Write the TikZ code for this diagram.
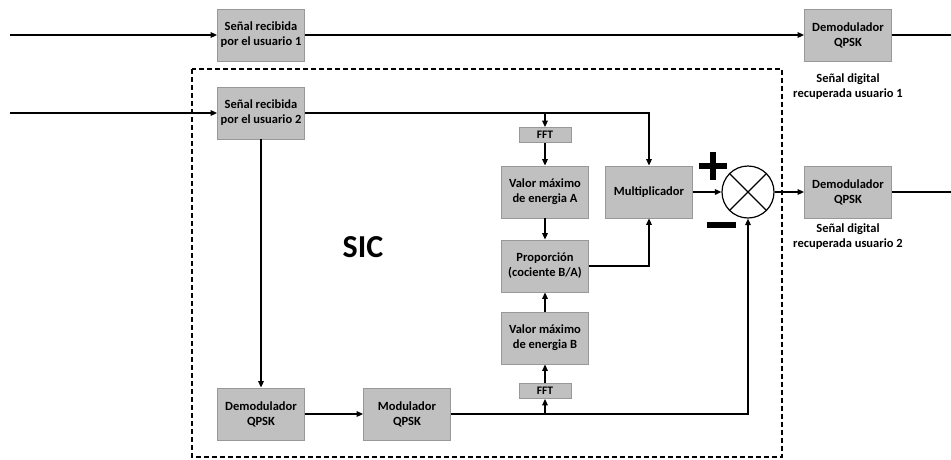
\documentclass[tikz,border=0pt]{standalone}
\usepackage{fontspec}
\setmainfont{Carlito}
\usetikzlibrary{arrows.meta}
\definecolor{boxfill}{HTML}{C0C0C0}
\definecolor{boxline}{HTML}{989898}
\begin{document}
\begin{tikzpicture}[x=1pt,y=-1pt,
  blk/.style={draw=boxline,line width=0.8pt,fill=boxfill,minimum width=87pt,minimum height=52pt,
    inner sep=0pt,align=center,font=\fontsize{12.5}{15}\selectfont\bfseries},
  fftbox/.style={draw=boxline,line width=0.8pt,fill=boxfill,minimum width=52pt,minimum height=15pt,
    inner sep=0pt,font=\fontsize{11.5}{12}\selectfont\bfseries},
  wire/.style={line width=2pt},
  flow/.style={wire,-{Triangle[length=6.5pt,width=5.5pt]}},
  lbl/.style={align=center,font=\fontsize{12.5}{15}\selectfont\bfseries}]
\useasboundingbox (0,0) rectangle (951,459);

% SIC region
\draw[line width=2.6pt,dash pattern=on 5pt off 3pt] (192,69) rectangle (782,457);
\node[font=\fontsize{32}{34}\selectfont\bfseries] (sic) at (363,247) {SIC};

% blocks
\node[blk] (rx1) at (261,35) {Señal recibida\\por el usuario 1};
\node[blk] (rx2) at (261,113) {Señal recibida\\por el usuario 2};
\node[blk] (dem1) at (848,35) {Demodulador\\QPSK};
\node[blk] (dem2) at (848,192) {Demodulador\\QPSK};
\node[fftbox] (fftA) at (545,135) {FFT};
\node[blk] (maxA) at (545,192) {Valor máximo\\de energia A};
\node[blk] (mult) at (649,192) {Multiplicador};
\node[blk] (prop) at (545,266) {Proporción\\(cociente B/A)};
\node[blk] (maxB) at (545,338) {Valor máximo\\de energia B};
\node[fftbox] (fftB) at (545,391) {FFT};
\node[blk] (demL) at (261,414) {Demodulador\\QPSK};
\node[blk] (mod) at (407,414) {Modulador\\QPSK};

% adder / subtractor
\node[draw,circle,line width=1.2pt,minimum size=52pt,inner sep=0pt] (sum) at (748,192) {};
\draw[line width=1.2pt] (sum.north west) -- (sum.south east) (sum.north east) -- (sum.south west);
\node[fill=black,minimum width=28pt,minimum height=6pt,inner sep=0pt] (plusH) at (713,166) {};
\node[fill=black,minimum width=6pt,minimum height=28pt,inner sep=0pt] (plusV) at (713,166) {};
\node[fill=black,minimum width=29pt,minimum height=6pt,inner sep=0pt] (minus) at (721,225) {};

% outputs labels
\node[lbl] (out1) at (848,87) {Señal digital\\recuperada usuario 1};
\node[lbl] (out2) at (848,237) {Señal digital\\recuperada usuario 2};

% free ends
\coordinate (in1) at (10,35);
\coordinate (in2) at (10,113);
\coordinate (end1) at (951,35);
\coordinate (end2) at (951,192);
\coordinate (tapA) at (fftA.north |- rx2.east);
\coordinate (tapB) at (fftB.south |- mod.east);

% connectors
\draw[flow] (in1) -- (rx1);
\draw[flow] (rx1) -- (dem1);
\draw[wire] (dem1) -- (end1);
\draw[flow] (in2) -- (rx2);
\draw[flow] (rx2.east) -| (mult.north);
\draw[flow] (tapA) -- (fftA.north);
\draw[flow] (fftA) -- (maxA);
\draw[flow] (maxA) -- (prop);
\draw[flow] (prop.east) -| (mult.south);
\draw[flow] (mult) -- (sum);
\draw[flow] (sum) -- (dem2);
\draw[wire] (dem2) -- (end2);
\draw[flow] (rx2) -- (demL);
\draw[flow] (demL) -- (mod);
\draw[flow] (mod.east) -| (sum.south);
\draw[flow] (tapB) -- (fftB.south);
\draw[flow] (fftB) -- (maxB);
\draw[flow] (maxB) -- (prop);
\end{tikzpicture}
\end{document}
